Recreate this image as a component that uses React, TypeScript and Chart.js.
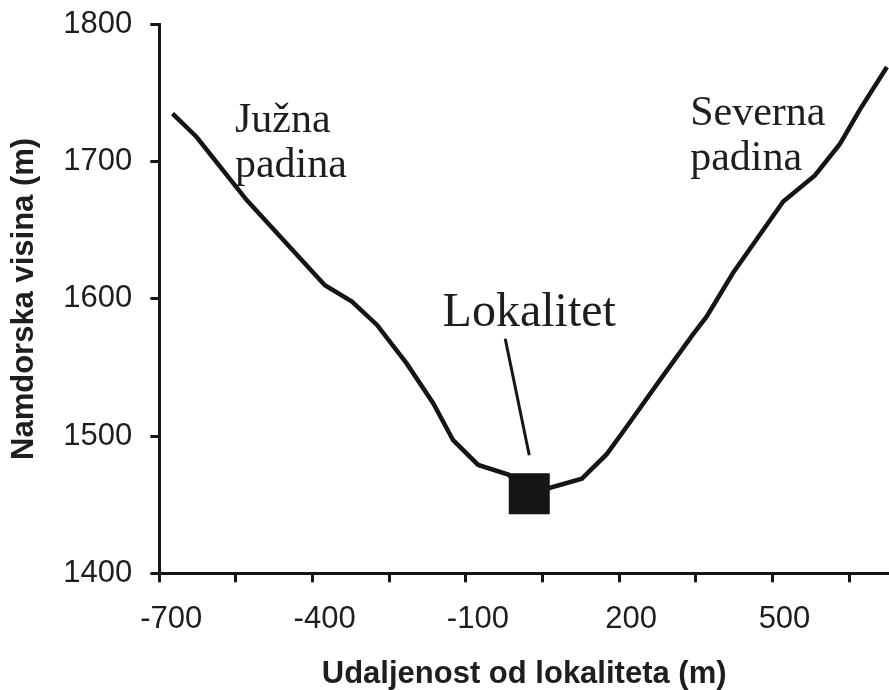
import React, { useEffect, useRef } from "react";
import { Chart, registerables } from "chart.js";

Chart.register(...registerables);

// Terrain profile: distance from the site (m) and elevation (m a.s.l.)
const DISTANCE_M = [-698, -651, -553, -400, -347, -298, -240, -188, -149, -100, -41, 0, 103, 152, 191, 256, 320, 347, 399, 497, 559, 608, 647, 700];
const ELEVATION_M = [1735, 1718, 1672, 1610, 1598, 1581, 1553, 1524, 1497, 1479, 1472, 1458, 1469, 1487, 1507, 1541, 1574, 1587, 1619, 1671, 1690, 1713, 1738, 1769];

// The site marker
const SITE_DISTANCE = [0];
const SITE_ELEVATION = [1458];

// Axes
const X_MIN = -724;
const X_MAX = 704;
const X_TICK_STEP = 150;
const X_TICK_LABELS = ["-700", "", "-400", "", "-100", "", "200", "", "500", ""];
const Y_MIN = 1400;
const Y_MAX = 1800;
const Y_STEP = 100;

const X_TITLE = "Udaljenost od lokaliteta (m)";
const Y_TITLE = "Namdorska visina (m)";

// Annotations (in data coordinates)
const SLOPE_NOTES = [
  { lines: ["Južna", "padina"], x: -576, y: 1722 },
  { lines: ["Severna", "padina"], x: 315, y: 1727 },
];
const SITE_NOTE = { text: "Lokalitet", x: 0, y: 1580 };
const SITE_POINTER = { x1: -47, y1: 1571, x2: 0, y2: 1486 };

const SANS = '"Liberation Sans", Arial, sans-serif';
const SERIF = '"Liberation Serif", "Times New Roman", serif';
const INK = "#151515";

const annotationPlugin = {
  id: "profileNotes",
  afterDatasetsDraw(chart: any) {
    const { ctx } = chart;
    const xs = chart.scales.x;
    const ys = chart.scales.y;
    ctx.save();
    // pointer line
    ctx.strokeStyle = INK;
    ctx.lineWidth = 3;
    ctx.lineCap = "butt";
    ctx.beginPath();
    ctx.moveTo(xs.getPixelForValue(SITE_POINTER.x1), ys.getPixelForValue(SITE_POINTER.y1));
    ctx.lineTo(xs.getPixelForValue(SITE_POINTER.x2), ys.getPixelForValue(SITE_POINTER.y2));
    ctx.stroke();

    ctx.fillStyle = "#1e1e1e";
    ctx.textBaseline = "alphabetic";
    ctx.font = `48px ${SERIF}`;
    ctx.textAlign = "center";
    ctx.fillText(SITE_NOTE.text, xs.getPixelForValue(SITE_NOTE.x), ys.getPixelForValue(SITE_NOTE.y));

    ctx.font = `42px ${SERIF}`;
    ctx.textAlign = "left";
    for (const note of SLOPE_NOTES) {
      const px = xs.getPixelForValue(note.x);
      const py = ys.getPixelForValue(note.y);
      note.lines.forEach((line, i) => {
        ctx.fillText(line, px, py + i * 45);
      });
    }
    ctx.restore();
  },
};

export default function App() {
  const canvasRef = useRef<HTMLCanvasElement | null>(null);

  useEffect(() => {
    const canvas = canvasRef.current;
    if (!canvas) return;

    const profile = DISTANCE_M.map((d, i) => ({ x: d, y: ELEVATION_M[i] }));
    const site = SITE_DISTANCE.map((d, i) => ({ x: d, y: SITE_ELEVATION[i] }));

    const chart = new Chart(canvas, {
      type: "scatter",
      data: {
        datasets: [
          {
            label: "Lokalitet",
            data: site,
            pointStyle: "rect",
            pointRadius: 29,
            pointBackgroundColor: INK,
            pointBorderWidth: 0,
            showLine: false,
            order: 0,
          },
          {
            label: "Profil",
            data: profile,
            showLine: true,
            borderColor: INK,
            borderWidth: 4.5,
            pointRadius: 0,
            tension: 0,
            fill: false,
            order: 1,
          },
        ],
      },
      plugins: [annotationPlugin],
      options: {
        responsive: false,
        animation: false,
        devicePixelRatio: 1,
        layout: { autoPadding: false, padding: { top: 24.5, right: 0, bottom: 0, left: 0 } },
        plugins: {
          legend: { display: false },
          tooltip: { enabled: false },
        },
        scales: {
          x: {
            type: "linear",
            min: X_MIN,
            max: X_MAX,
            afterBuildTicks: (axis: any) => {
              axis.ticks = X_TICK_LABELS.map((_, i) => ({ value: X_MIN + i * X_TICK_STEP }));
            },
            afterFit: (scale: any) => {
              scale.height = 116.7;
              scale.paddingLeft = 0;
              scale.paddingRight = 0;
            },
            ticks: {
              autoSkip: false,
              maxRotation: 0,
              labelOffset: 12,
              padding: 19,
              color: "#1e1e1e",
              font: { family: SANS, size: 31 },
              callback: (_v: any, i: number) => X_TICK_LABELS[i],
            },
            grid: {
              drawOnChartArea: false,
              drawTicks: true,
              tickLength: 9,
              tickWidth: 3,
              color: INK,
            },
            border: { display: true, width: 3, color: INK },
            title: {
              display: true,
              text: X_TITLE,
              color: "#1e1e1e",
              font: { family: SANS, size: 31, weight: "bold", lineHeight: 1 },
              padding: { top: 0, bottom: 0 },
            },
          },
          y: {
            type: "linear",
            min: Y_MIN,
            max: Y_MAX,
            afterFit: (scale: any) => {
              scale.width = 159.3;
              scale.paddingTop = 0;
              scale.paddingBottom = 0;
            },
            ticks: {
              stepSize: Y_STEP,
              padding: 18,
              color: "#1e1e1e",
              font: { family: SANS, size: 31 },
              callback: (v: any) => String(v),
            },
            grid: {
              drawOnChartArea: false,
              drawTicks: true,
              tickLength: 9,
              tickWidth: 3,
              color: INK,
            },
            border: { display: true, width: 3, color: INK },
            title: {
              display: true,
              text: Y_TITLE,
              color: "#1e1e1e",
              font: { family: SANS, size: 31, weight: "bold", lineHeight: 1 },
              padding: { top: 9, bottom: 0 },
            },
          },
        },
      },
    } as any);

    return () => chart.destroy();
  }, []);

  return (
    <div style={{ position: "absolute", left: 0, top: 0, width: 889, height: 690, background: "#fff" }}>
      <canvas ref={canvasRef} width={889} height={690} style={{ display: "block" }} />
    </div>
  );
}
